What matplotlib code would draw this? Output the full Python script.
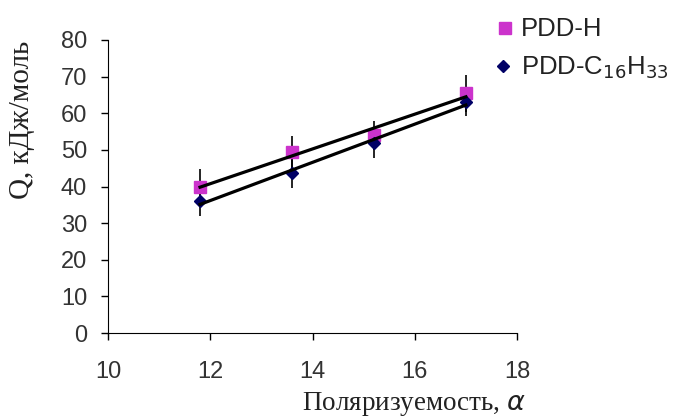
import numpy as np
import matplotlib
matplotlib.use("Agg")
import matplotlib.pyplot as plt

# values
polarizability = [11.8, 13.6, 15.2, 17.0]
q_pdd_h = [39.8, 49.4, 54.0, 65.4]
q_pdd_c16 = [36.0, 43.7, 51.8, 63.2]
err_pdd_h = [5.0, 4.5, 4.0, 5.0]
err_pdd_c16 = [4.0, 4.0, 4.0, 4.0]

x_ticks = [10, 12, 14, 16, 18]
y_ticks = [0, 10, 20, 30, 40, 50, 60, 70, 80]

fig = plt.figure(figsize=(6.81, 4.17), dpi=100)
ax = fig.add_axes([108 / 681, 84 / 417, 409 / 681, 293 / 417])

sans = "Liberation Sans"
serif = "Liberation Serif"
magenta = "#cc33cc"
navy = "#000066"

for qs, errs, color, marker, ms in [
    (q_pdd_h, err_pdd_h, magenta, "s", 9),
    (q_pdd_c16, err_pdd_c16, navy, "D", 6.5),
]:
    ax.errorbar(polarizability, qs, yerr=errs, fmt="none", ecolor="black", elinewidth=1.2, capsize=0)
    ax.plot(polarizability, qs, linestyle="none", marker=marker, markersize=ms, color=color, zorder=3)
    k, b = np.polyfit(polarizability, qs, 1)
    xs = np.array([polarizability[0], polarizability[-1]])
    ax.plot(xs, k * xs + b, color="black", linewidth=2.3, zorder=4)

ax.set_xlim(10, 18)
ax.set_ylim(0, 80)
ax.set_xticks(x_ticks)
ax.set_yticks(y_ticks)
ax.spines["top"].set_visible(False)
ax.spines["right"].set_visible(False)
ax.tick_params(direction="out", length=5, width=1, labelsize=17, colors="black")
ax.tick_params(axis="x", pad=15)
ax.tick_params(axis="y", pad=10)
for lbl in ax.get_xticklabels() + ax.get_yticklabels():
    lbl.set_fontfamily(sans)
    lbl.set_color("#333333")

fig.text(414 / 681, 1 - 410 / 417, "Поляризуемость, $\\alpha$", fontfamily=serif, fontsize=19.5,
         ha="center", va="baseline", color="#222222")
fig.text(22 / 681, 1 - 120 / 417, "Q, кДж/моль", fontfamily=serif, fontsize=21,
         rotation=90, ha="center", va="center", color="#222222")

# legend drawn by hand at the upper right
ax_leg = fig.add_axes([0, 0, 1, 1], facecolor="none")
ax_leg.set_axis_off()
ax_leg.set_xlim(0, 681)
ax_leg.set_ylim(417, 0)
ax_leg.plot([505], [28], marker="s", markersize=9, color=magenta, linestyle="none")
ax_leg.plot([503], [66], marker="D", markersize=6, color=navy, linestyle="none")
ax_leg.text(521, 29, "PDD-H", fontfamily=sans, fontsize=18.5, va="center", color="#222222")
ax_leg.text(521, 68, "PDD-C$_{16}$H$_{33}$", fontfamily=sans, fontsize=18.5, va="center", color="#222222")

fig.savefig("out.png", dpi=100)
